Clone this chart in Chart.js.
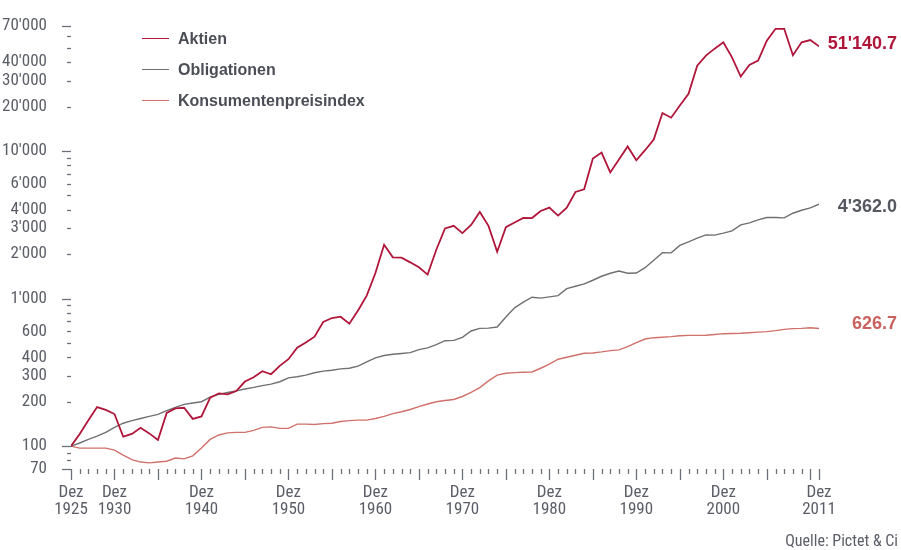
<!DOCTYPE html>
<html>
<head>
<meta charset="utf-8">
<script src="https://cdn.jsdelivr.net/npm/chart.js@4/dist/chart.umd.min.js"></script>
<style>
  body { margin: 0; background: #fff; }
  #wrap { position: relative; width: 901px; height: 550px; }
  .leg { position: absolute; left: 142px; height: 20px; font: bold 16px "Liberation Sans", Arial, sans-serif; color: #4b4e57; }
  .leg span.ln { position: absolute; left: 0; top: 9px; width: 27px; height: 0; border-top: 1.5px solid; }
  .leg span.tx { position: absolute; left: 36px; top: 0; line-height: 20px; white-space: nowrap; }
  #src { position: absolute; right: 3px; top: 531px; font: 16px "Roboto Condensed", "Liberation Sans", sans-serif; color: #5b5e66; }
</style>
</head>
<body>
<div id="wrap">
  <canvas id="chart" width="901" height="550"></canvas>
  <div class="leg" style="top:29px"><span class="ln" style="border-color:#b0163a"></span><span class="tx">Aktien</span></div>
  <div class="leg" style="top:60px"><span class="ln" style="border-color:#707070"></span><span class="tx">Obligationen</span></div>
  <div class="leg" style="top:91px"><span class="ln" style="border-color:#d0716b"></span><span class="tx">Konsumentenpreisindex</span></div>
  <div id="src">Quelle: Pictet &amp; Ci</div>
</div>
<script>
// years, Dez 1925 .. Dez 2011
const years = [];
for (let y = 1925; y <= 2011; y++) years.push(y);

const aktien = [
  100, 121, 150, 184, 176, 165, 116, 121, 133, 122,
  110, 168, 180, 182, 153, 159, 213, 228, 224, 236,
  274, 293, 322, 307, 350, 388, 465, 503, 552, 693,
  738, 753, 675, 830, 1047, 1490, 2311, 1901, 1891, 1759,
  1628, 1453, 2140, 2983, 3107, 2773, 3150, 3860, 3107, 2075,
  3043, 3273, 3518, 3510, 3920, 4131, 3648, 4131, 5270, 5497,
  8888, 9755, 7149, 8750, 10715, 8650, 10115, 11940, 18070, 16800,
  20330, 24380, 37850, 44200, 49300, 54450, 43100, 31900, 38250, 40900,
  55800, 67200, 67200, 44460, 54450, 56400, 51140.7
];

const obligationen = [
  100, 105, 111, 117, 124, 134, 143, 149, 154, 159,
  164, 174, 183, 192, 196, 200, 215, 224, 231, 237,
  244, 250, 257, 263, 273, 290, 295, 303, 314, 322,
  327, 334, 337, 348, 372, 396, 411, 419, 424, 430,
  451, 463, 487, 518, 521, 546, 603, 628, 630, 641,
  750, 865, 946, 1021, 1006, 1026, 1047, 1167, 1211, 1256,
  1330, 1416, 1484, 1537, 1484, 1490, 1618, 1815, 2045, 2040,
  2291, 2423, 2566, 2701, 2690, 2773, 2875, 3155, 3253, 3409,
  3539, 3539, 3520, 3784, 3963, 4110, 4362.0
];

const kpi = [
  100, 97, 97, 97, 97, 94, 87, 81, 78, 77,
  78, 79, 83, 82, 86, 97, 111, 119, 123, 124,
  124, 128, 134, 135, 132, 132, 141, 141, 140, 142,
  143, 147, 149, 150, 150, 154, 159, 166, 171, 177,
  185, 193, 200, 204, 207, 217, 231, 249, 277, 303,
  312, 315, 317, 318, 337, 359, 388, 400, 413, 426,
  428, 435, 444, 449, 472, 503, 532, 543, 547, 552,
  560, 563, 563, 564, 571, 578, 580, 582, 587, 592,
  597, 606, 618, 625, 628, 634, 626.7
];

const yLabels = [70, 100, 200, 300, 400, 600, 1000, 2000, 3000, 4000, 6000, 10000, 20000, 30000, 40000, 70000];
const yMarks = [70, 80, 90, 100, 200, 300, 400, 500, 600, 700, 800, 900, 1000, 2000, 3000, 4000, 5000, 6000, 7000, 8000, 9000,
  10000, 20000, 30000, 40000, 50000, 60000, 70000];
const yLong = [70, 100, 1000, 10000, 70000];
const xLabels = [1925, 1930, 1940, 1950, 1960, 1970, 1980, 1990, 2000, 2011];

const endLabels = ["51'140.7", "4'362.0", "626.7"];

function fmt(v) {
  return String(v).replace(/\B(?=(\d{3})+(?!\d))/g, "'");
}

const grey = '#5b5e66';
const tickFont = '"Roboto Condensed", "Liberation Sans", sans-serif';

const axisMarks = {
  id: 'axisMarks',
  afterDraw(chart) {
    const ctx = chart.ctx;
    const xs = chart.scales.x, ys = chart.scales.y;
    const left = chart.chartArea.left;
    const base = chart.chartArea.bottom;
    ctx.save();
    ctx.strokeStyle = '#6d7078';
    ctx.lineWidth = 1.3;
    yMarks.forEach(v => {
      const py = Math.round(ys.getPixelForValue(v)) + 0.5;
      const len = yLong.includes(v) ? 9 : 4;
      ctx.beginPath();
      ctx.moveTo(left - len, py);
      ctx.lineTo(left, py);
      ctx.stroke();
    });
    years.forEach(y => {
      const px = Math.round(xs.getPixelForValue(y)) + 0.5;
      const len = (y % 5 === 0 || y === 2011) ? 11 : 5;
      ctx.beginPath();
      ctx.moveTo(px, base);
      ctx.lineTo(px, base + len);
      ctx.stroke();
    });
    // end values
    ctx.font = 'bold 18px "Liberation Sans", Arial, sans-serif';
    ctx.textAlign = 'right';
    ctx.textBaseline = 'middle';
    const offs = [-2, 3, -4];
    chart.data.datasets.forEach((ds, i) => {
      const meta = chart.getDatasetMeta(i);
      const last = meta.data[meta.data.length - 1];
      ctx.fillStyle = ds.labelColor;
      ctx.fillText(endLabels[i], 897, last.y + offs[i]);
    });
    ctx.restore();
  }
};

const toPoints = arr => arr.map((v, i) => ({ x: years[i], y: v }));

new Chart(document.getElementById('chart').getContext('2d'), {
  type: 'line',
  data: {
    datasets: [
      { label: 'Aktien', data: toPoints(aktien), borderColor: '#b0163a', labelColor: '#b0163a', borderWidth: 1.8 },
      { label: 'Obligationen', data: toPoints(obligationen), borderColor: '#707070', labelColor: '#555861', borderWidth: 1.4 },
      { label: 'Konsumentenpreisindex', data: toPoints(kpi), borderColor: '#d0716b', labelColor: '#c9625e', borderWidth: 1.4 }
    ]
  },
  options: {
    responsive: false,
    animation: false,
    devicePixelRatio: 1,
    elements: { point: { radius: 0 }, line: { tension: 0 } },
    layout: { padding: { top: 21, right: 82, left: 0, bottom: 0 } },
    plugins: { legend: { display: false }, tooltip: { enabled: false } },
    scales: {
      x: {
        type: 'linear',
        min: 1925,
        max: 2011,
        grid: { display: false },
        border: { display: false },
        afterBuildTicks: s => { s.ticks = xLabels.map(v => ({ value: v })); },
        afterFit: s => { s.height = 81; },
        ticks: {
          autoSkip: false,
          maxRotation: 0,
          padding: 7,
          color: grey,
          font: { family: tickFont, size: 17, lineHeight: 1.02 },
          callback: v => ['Dez', String(v)]
        }
      },
      y: {
        type: 'logarithmic',
        min: 70,
        max: 70000,
        grid: { display: false },
        border: { display: false },
        afterBuildTicks: s => { s.ticks = yLabels.map(v => ({ value: v })); },
        afterFit: s => { s.width = 71; },
        ticks: {
          autoSkip: false,
          padding: 16,
          color: grey,
          font: { family: tickFont, size: 17 },
          callback: v => fmt(v)
        }
      }
    }
  },
  plugins: [axisMarks]
});
</script>
</body>
</html>
